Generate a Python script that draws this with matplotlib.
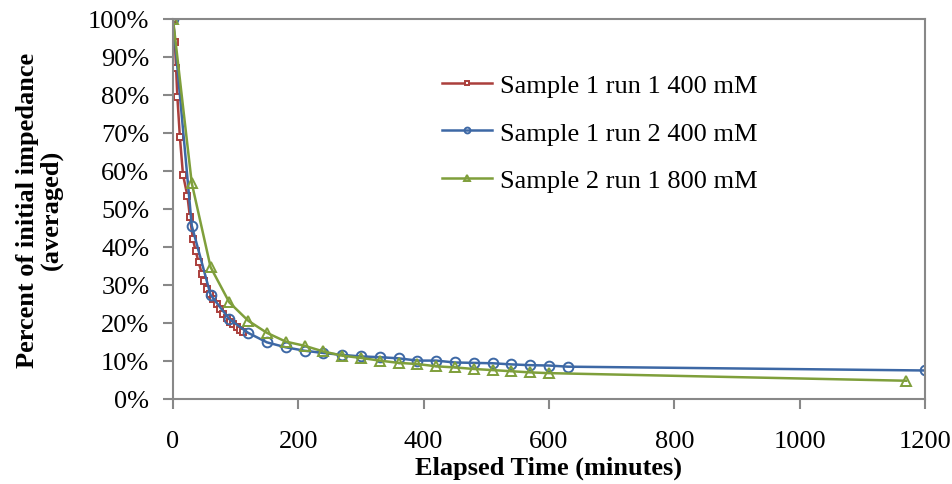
import matplotlib
matplotlib.use('Agg')
import matplotlib.pyplot as plt
from matplotlib.ticker import FuncFormatter

# Sample 1 run 1 400 mM
t_run1 = [0, 3, 5, 7, 11, 16, 23, 27, 32, 36, 41, 46, 50, 55, 59, 64, 70, 75, 80, 86, 91, 96, 102, 107, 112]
v_run1 = [1.00, 0.94, 0.87, 0.795, 0.69, 0.59, 0.535, 0.48, 0.42, 0.39, 0.36, 0.33, 0.31, 0.29, 0.276,
          0.263, 0.25, 0.237, 0.224, 0.212, 0.203, 0.196, 0.189, 0.182, 0.177]

# Sample 1 run 2 400 mM
t_run2 = [0, 30, 60, 90, 120, 150, 180, 210, 240, 270, 300, 330, 360, 390, 420, 450, 480, 510, 540,
          570, 600, 630, 1200]
v_run2 = [1.00, 0.456, 0.274, 0.21, 0.174, 0.149, 0.136, 0.127, 0.121, 0.116, 0.112, 0.110, 0.107,
          0.101, 0.101, 0.096, 0.095, 0.094, 0.091, 0.089, 0.088, 0.085, 0.075]

# Sample 2 run 1 800 mM
t_run3 = [0, 30, 60, 90, 120, 150, 180, 210, 240, 270, 300, 330, 360, 390, 420, 450, 480, 510, 540,
          570, 600, 1170]
v_run3 = [1.00, 0.568, 0.347, 0.254, 0.206, 0.174, 0.151, 0.14, 0.125, 0.114, 0.108, 0.101, 0.095,
          0.092, 0.086, 0.083, 0.079, 0.076, 0.073, 0.070, 0.068, 0.048]

labels = ['Sample 1 run 1 400 mM', 'Sample 1 run 2 400 mM', 'Sample 2 run 1 800 mM']

plt.rcParams['font.family'] = ['Liberation Serif', 'DejaVu Serif']
fs = 19

fig = plt.figure(figsize=(9.53, 4.85), dpi=100)
ax = fig.add_axes([0.1815, 0.1753, 0.7891, 0.7835])

ax.plot(t_run1, v_run1, color='#ab3f3c', lw=1.8, marker='s', ms=4.5, mfc='white', mec='#ab3f3c', mew=1.4,
        label=labels[0])
ax.plot(t_run2, v_run2, color='#3d68a5', lw=1.8, marker='o', ms=7, mfc='none', mec='#3d68a5', mew=1.4,
        label=labels[1])
ax.plot(t_run3, v_run3, color='#7f9f3b', lw=1.8, marker='^', ms=7, mfc='none', mec='#7f9f3b', mew=1.4,
        label=labels[2])

ax.set_xlim(0, 1200)
ax.set_ylim(0, 1.0)
ax.set_xticks(range(0, 1201, 200))
ax.set_yticks([i / 10 for i in range(11)])
ax.yaxis.set_major_formatter(FuncFormatter(lambda v, p: '%d%%' % round(v * 100)))

for s in ax.spines.values():
    s.set_color('#888888')
    s.set_linewidth(1.5)
ax.tick_params(axis='both', direction='out', length=7, width=1.5, color='#888888', labelsize=fs)
ax.tick_params(axis='x', pad=15)
ax.tick_params(axis='y', pad=10)

ax.set_xlabel('Elapsed Time (minutes)', fontsize=fs, fontweight='bold')
ax.set_ylabel('Percent of initial impedance\n(averaged)', fontsize=fs, fontweight='bold',
              linespacing=1.05)
ax.xaxis.set_label_coords(0.5, -0.15)
ax.yaxis.set_label_coords(-0.146, 0.5)

leg = ax.legend(loc='upper left', bbox_to_anchor=(0.326, 0.918), frameon=False, fontsize=fs,
                handlelength=1.9, handletextpad=0.3, labelspacing=0.9, markerscale=0.6)

fig.savefig('out.png', dpi=100)
